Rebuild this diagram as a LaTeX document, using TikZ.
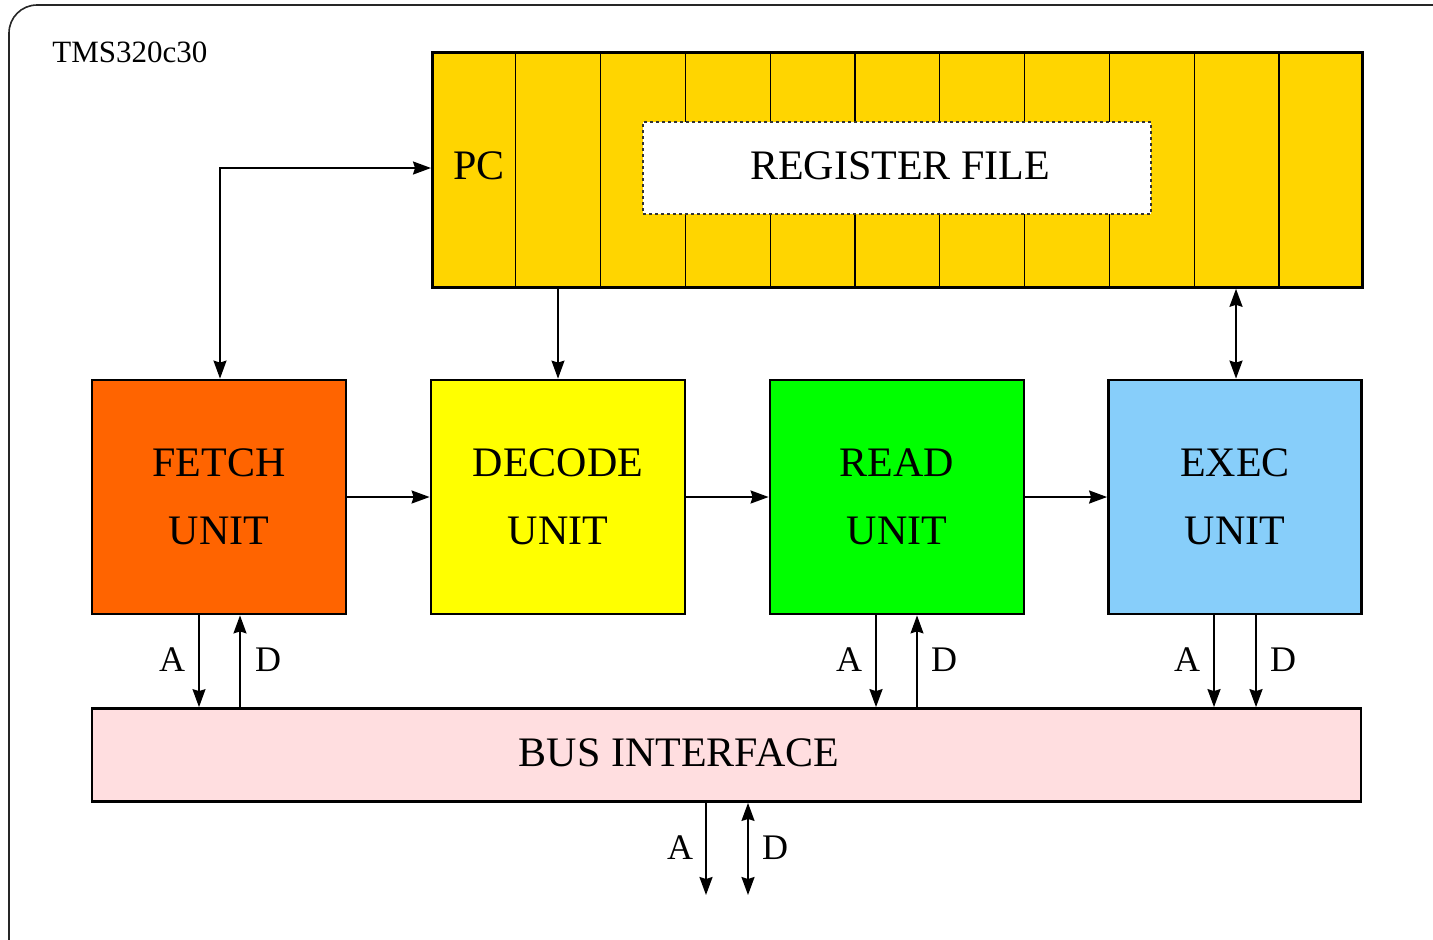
\documentclass[tikz,border=0pt]{standalone}
\usepackage{fontspec}
\setmainfont{Liberation Serif}
\usetikzlibrary{arrows.meta,calc}
\definecolor{regcol}{HTML}{FFD500}
\definecolor{fetchcol}{HTML}{FF6400}
\definecolor{decodecol}{HTML}{FFFF00}
\definecolor{readcol}{HTML}{00FF00}
\definecolor{execcol}{HTML}{87CEFA}
\definecolor{buscol}{HTML}{FFDEE0}
\tikzset{
  tip/.tip={Stealth[length=9pt,width=6.5pt,inset=1pt]},
  unitbox/.style={draw=black, line width=1.4pt, minimum width=127pt, minimum height=117pt, inner sep=0pt, align=center, font=\fontsize{21}{34}\selectfont},
  conn/.style={line width=1pt, -tip},
  dconn/.style={line width=1pt, tip-tip},
  thinconn/.style={line width=0.6pt, -tip},
  lab/.style={font=\fontsize{18}{20}\selectfont, inner sep=0pt},
  big/.style={font=\fontsize{21}{24}\selectfont, inner sep=0pt}
}
\begin{document}
\begin{tikzpicture}[x=0.5pt,y=-0.5pt]
\useasboundingbox (0,0) rectangle (1433,939);
% outer frame
\draw[line width=0.8pt, draw=black!85, rounded corners=14pt] (9,960) -- (9,5) -- (1460,5);
\node[lab, anchor=base west, font=\fontsize{15.5}{18}\selectfont] (title) at (52,62) {TMS320c30};
% register file
\node[draw=black, line width=1.4pt, fill=regcol, minimum width=465pt, minimum height=117.5pt, inner sep=0pt, anchor=north west] (reg) at (431,51) {};
\foreach \i in {1,...,10}{
  \draw[line width=0.6pt] ($(reg.north west)!\i/11!(reg.north east)$) -- ($(reg.south west)!\i/11!(reg.south east)$);
}
\node[draw=black!80, dash pattern=on 1.5pt off 1.5pt, line width=0.8pt, fill=white, minimum width=254pt, minimum height=46pt, inner sep=0pt] (rf) at (897,168) {};
\node[big] (rflab) at (900,166) {REGISTER FILE};
\node[big] (pc) at (479,166) {PC};
% units
\node[unitbox, fill=fetchcol] (fetch) at (219,497) {FETCH\\UNIT};
\node[unitbox, fill=decodecol] (decode) at (558,497) {DECODE\\UNIT};
\node[unitbox, fill=readcol] (read) at (897,497) {READ\\UNIT};
\node[unitbox, fill=execcol, minimum width=126.5pt] (exec) at (1235,497) {EXEC\\UNIT};
% bus
\node[draw=black, line width=1.4pt, fill=buscol, minimum width=634.5pt, minimum height=46.5pt, inner sep=0pt] (bus) at (726.5,755) {};
\node[big] (buslab) at (679,753) {BUS INTERFACE};
% register connections
\coordinate (corner) at (220,168);
\draw[dconn] (fetch.north -| corner) -- (corner) -- (reg.west |- corner);
\draw[conn, line width=0.7pt] (reg.south -| decode.north) -- (decode.north);
\coordinate (xcol) at (1236,0);
\draw[dconn] (reg.south -| xcol) -- (exec.north -| xcol);
% pipeline
\draw[conn] (fetch.east) -- (decode.west);
\draw[conn] (decode.east) -- (read.west);
\draw[conn] (read.east) -- (exec.west);
% fetch bus
\coordinate (c1) at (199,0);
\coordinate (c2) at (240,0);
\coordinate (c3) at (876,0);
\coordinate (c4) at (917,0);
\coordinate (c5) at (1214,0);
\coordinate (c6) at (1256,0);
\draw[thinconn, line width=0.7pt] (fetch.south -| c1) -- (bus.north -| c1);
\draw[conn] (bus.north -| c2) -- (fetch.south -| c2);
\node[lab] (fa) at (172,660) {A};
\node[lab] (fd) at (268,660) {D};
% read bus
\draw[conn] (read.south -| c3) -- (bus.north -| c3);
\draw[thinconn] (bus.north -| c4) -- (read.south -| c4);
\node[lab] (ra) at (849,660) {A};
\node[lab] (rd) at (944,660) {D};
% exec bus
\draw[conn] (exec.south -| c5) -- (bus.north -| c5);
\draw[conn] (exec.south -| c6) -- (bus.north -| c6);
\node[lab] (ea) at (1187,660) {A};
\node[lab] (ed) at (1283,660) {D};
% external bus
\coordinate (extA) at (706,895);
\coordinate (extD) at (748,895);
\draw[conn] (bus.south -| extA) -- (extA);
\draw[dconn] (bus.south -| extD) -- (extD);
\node[lab] (xa) at (680,848) {A};
\node[lab] (xd) at (775,848) {D};
\end{tikzpicture}
\end{document}
